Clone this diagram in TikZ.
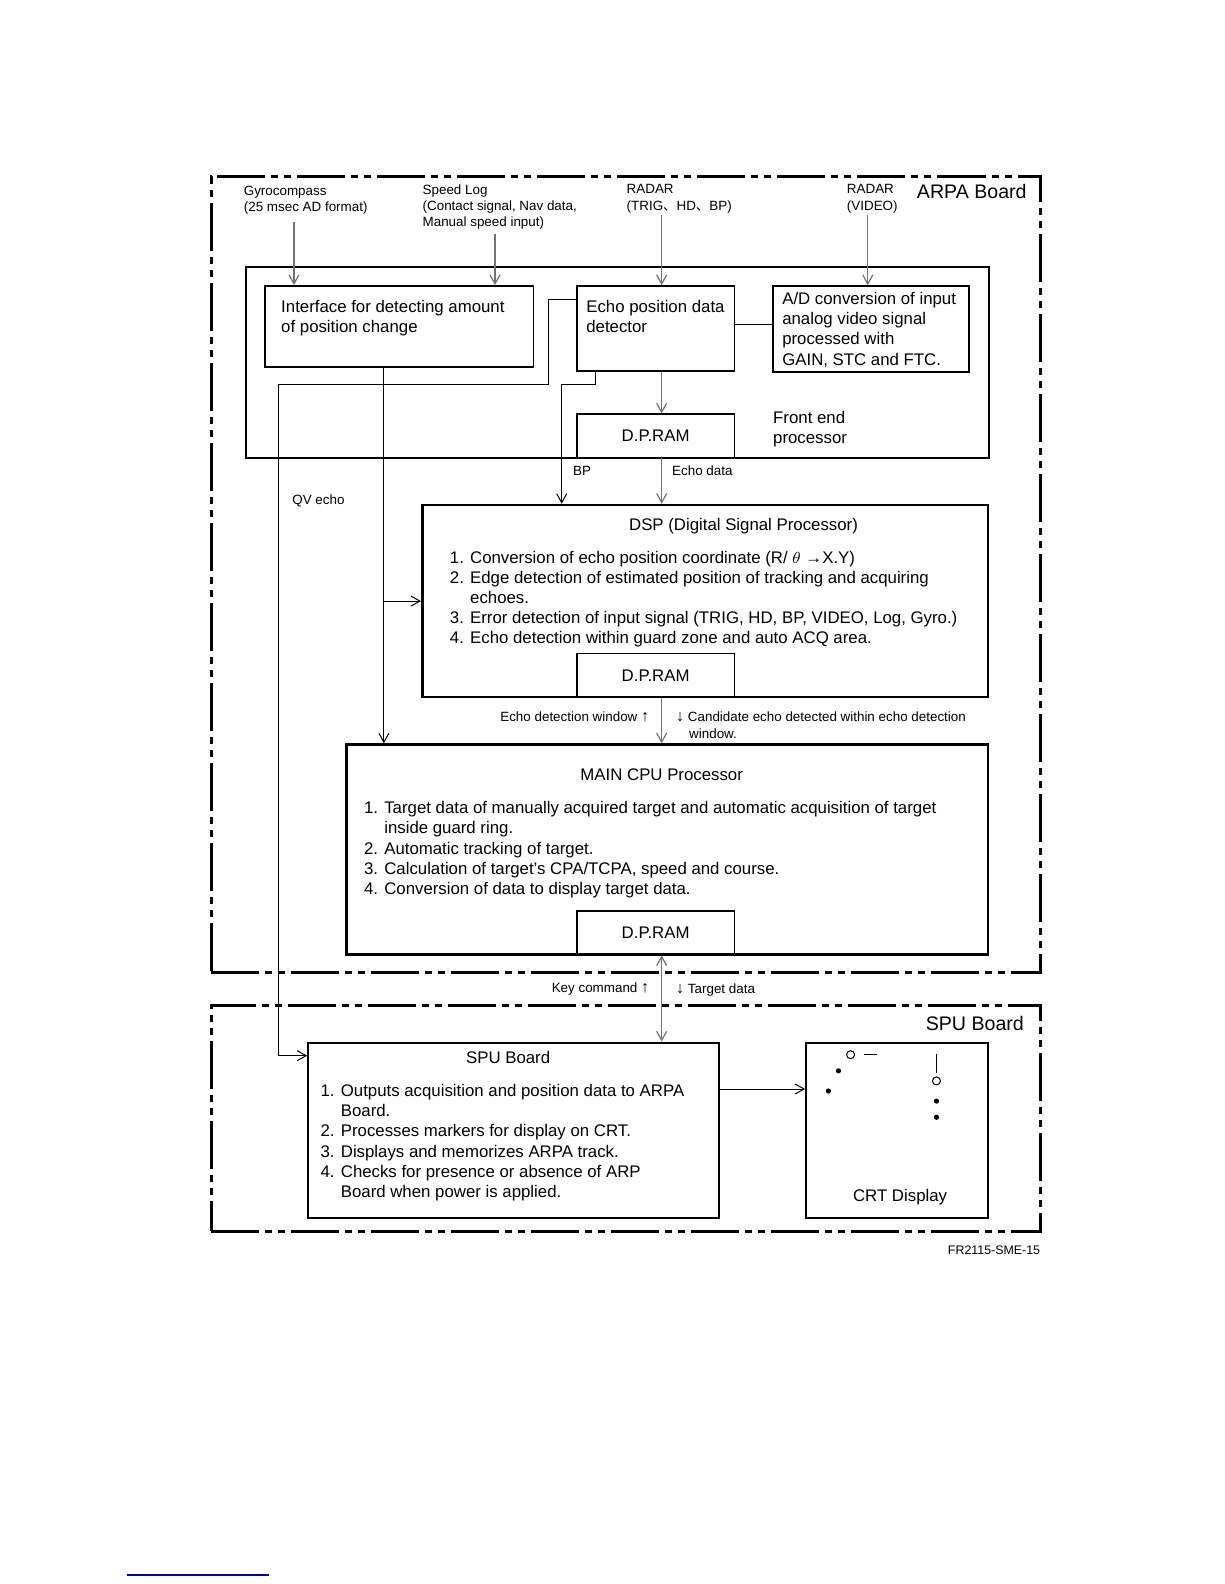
\documentclass[tikz,border=0pt]{standalone}
\usepackage{fontspec}
\setmainfont{Liberation Sans}
\newfontfamily\cjkfont{Noto Sans CJK JP}
\usepackage{tikz}
\usetikzlibrary{arrows.meta,positioning,calc}

\newcommand{\uparr}{\smash{\fontsize{8}{8}\selectfont\textuparrow}}
\newcommand{\downarr}{\smash{\fontsize{8}{8}\selectfont\textdownarrow}}

\begin{document}
\begin{tikzpicture}[
    x=0.505pt, y=-0.505pt,
    >={Straight Barb[length=4.5pt,width=5pt]},
    box/.style={
        draw=black,
        line width=0.8pt,
        inner sep=0pt
    },
    heavybox/.style={
        box,
        line width=1.3pt
    },
    ram/.style={
        box,
        minimum width=78.8pt,
        minimum height=21.7pt,
        font=\fontsize{8.4}{10}\selectfont
    },
    board/.style={
        draw=black,
        line width=1.5pt,
        dash pattern=on 24pt off 3pt on 3.5pt off 3pt on 3.5pt off 3pt,
        inner sep=0pt
    },
    txt/.style={
        anchor=north west,
        inner sep=0pt,
        align=left,
        font=\fontsize{8.4}{10.1}\selectfont
    },
    small/.style={
        anchor=north west,
        inner sep=0pt,
        align=left,
        font=\fontsize{6.7}{8.1}\selectfont
    },
    title/.style={
        inner sep=0pt,
        font=\fontsize{8.4}{10}\selectfont
    },
    boardtitle/.style={
        inner sep=0pt,
        font=\fontsize{9.8}{11}\selectfont
    },
    wire/.style={
        line width=0.5pt,
        draw=black
    },
    arrow/.style={
        ->,
        line width=0.5pt,
        draw=black
    },
    grayarrow/.style={
        ->,
        line width=0.6pt,
        draw=black!55
    },
    dot/.style={
        fill=black
    }
]

% ---------------------------------------------------------
% Page and boards
% ---------------------------------------------------------
\path[use as bounding box] (0,0) rectangle (1212,1568);

\node[board, minimum width=414.6pt, minimum height=397.9pt]
    (arpa) at (619.5,569) {};
\node[boardtitle] (arpatitle) at (962,190) {ARPA Board};

\node[board, minimum width=414.6pt, minimum height=113.1pt]
    (spuboard) at (619.5,1107) {};
\node[boardtitle] (sputitle) at (965,1013) {SPU Board};

\node[small, anchor=east, font=\fontsize{6.2}{7}\selectfont]
    (figno) at (1030,1238) {FR2115-SME-15};

% ---------------------------------------------------------
% Front end processor
% ---------------------------------------------------------
\node[box, line width=1pt, minimum width=371.2pt, minimum height=95.4pt]
    (front) at (611.5,358.5) {};
\node[txt] (fronttxt) at (765,407) {Front end\\processor};

\node[box, minimum width=134.3pt, minimum height=40.4pt]
    (iface) at (395,323) {};
\node[txt] (ifacetxt) at (278,297)
    {Interface for detecting amount\\of position change};

\node[box, minimum width=78.8pt, minimum height=42.4pt]
    (echo) at (649,325) {};
\node[txt] (echotxt) at (580,297) {Echo position data\\detector};

\node[box, minimum width=98pt, minimum height=42.9pt]
    (adconv) at (862,325.5) {};
\node[txt] (adtxt) at (774,289)
    {A/D conversion of input\\analog video signal\\processed with\\GAIN, STC and FTC.};

\node[ram] (ram1) at (649,431.5) {D.P.RAM};

% inputs
\node[small] (gyro) at (241,183.5)
    {Gyrocompass\\(25 msec AD format)};
\node[small] (speed) at (418,182.5)
    {Speed Log\\(Contact signal, Nav data,\\Manual speed input)};
\node[small] (radar) at (620,182.5)
    {RADAR\\(TRIG{\cjkfont 、}HD{\cjkfont 、}BP)};
\node[small] (video) at (838,182.5)
    {RADAR\\(VIDEO)};

\coordinate (gyroin) at (291,220);
\coordinate (speedin) at (490,232);
\coordinate (radarin) at (655,213);
\coordinate (videoin) at (859,213);

\draw[grayarrow] (gyroin) -- (gyroin |- iface.north);
\draw[grayarrow] (speedin) -- (speedin |- iface.north);
\draw[grayarrow] (radarin) -- (radarin |- echo.north);
\draw[grayarrow] (videoin) -- (videoin |- adconv.north);

\draw[wire] (echo.east |- 0,321) -- (adconv.west |- 0,321);
\draw[grayarrow] (radarin |- echo.south) -- (radarin |- ram1.north);

% ---------------------------------------------------------
% DSP
% ---------------------------------------------------------
\node[heavybox, minimum width=282.8pt, minimum height=96pt]
    (dsp) at (698,595) {};
\node[title] (dsptitle) at (736,521) {DSP (Digital Signal Processor)};
\node[txt] (dsplist) at (445,545)
    {1. Conversion of echo position coordinate (R/ $\theta$ \textrightarrow X.Y)\\
     2. Edge detection of estimated position of tracking and acquiring\\
     \phantom{2. }echoes.\\
     3. Error detection of input signal (TRIG, HD, BP, VIDEO, Log, Gyro.)\\
     4. Echo detection within guard zone and auto ACQ area.};
\node[ram] (ram2) at (649,668.5) {D.P.RAM};

% BP and echo data into the DSP
\coordinate (bpx) at (589,381);
\coordinate (bpdown) at (556,381);
\draw[arrow] (bpx |- echo.south) -- (bpx) -- (bpdown) -- (bpdown |- dsp.north);
\draw[grayarrow] (radarin |- ram1.south) -- (radarin |- dsp.north);
\node[small, anchor=west] (bplbl) at (567,466) {BP};
\node[small, anchor=west] (echodatalbl) at (665,466) {Echo data};

% ---------------------------------------------------------
% MAIN CPU
% ---------------------------------------------------------
\node[heavybox, minimum width=320.7pt, minimum height=105pt]
    (cpu) at (660.5,841) {};
\node[title] (cputitle) at (655,767) {MAIN CPU Processor};
\node[txt] (cpulist) at (360,793)
    {1. Target data of manually acquired target and automatic acquisition of target\\
     \phantom{1. }inside guard ring.\\
     2. Automatic tracking of target.\\
     3. Calculation of target's CPA/TCPA, speed and course.\\
     4. Conversion of data to display target data.};
\node[ram] (ram3) at (649,923.5) {D.P.RAM};

\draw[grayarrow] (radarin |- ram2.south) -- (radarin |- cpu.north);
\node[small, anchor=east] (windowlbl) at (643,709) {Echo detection window \uparr};
\node[small] (candlbl) at (669,704.5)
    {\downarr{} Candidate echo detected within echo detection\\
     \hspace*{6.5pt}window.};

% position change into DSP and CPU
\coordinate (posx) at (380,595);
\draw[arrow] (posx |- iface.south) -- (posx |- cpu.north);
\draw[arrow] (posx) -- (dsp.west |- posx);

% ---------------------------------------------------------
% SPU board
% ---------------------------------------------------------
\node[box, line width=1pt, minimum width=205.5pt, minimum height=87.9pt]
    (spu) at (508.5,1119) {};
\node[title] (sputxt) at (503,1047) {SPU Board};
\node[txt] (spulist) at (317,1073)
    {1. Outputs acquisition and position data to ARPA\\
     \phantom{1. }Board.\\
     2. Processes markers for display on CRT.\\
     3. Displays and memorizes ARPA track.\\
     4. Checks for presence or absence of ARP\\
     \phantom{4. }Board when power is applied.};

\node[box, line width=1pt, minimum width=90.9pt, minimum height=87.9pt]
    (crt) at (888,1119) {};
\node[title] (crttxt) at (891,1185) {CRT Display};

\draw[<->, line width=0.6pt, draw=black!55] (radarin |- ram3.south) -- (radarin |- spu.north);
\node[small, anchor=east] (keylbl) at (643,979) {Key command \uparr};
\node[small, anchor=west] (targetlbl) at (669,980) {\downarr{} Target data};

\draw[arrow] (spu.east |- 0,1078) -- (crt.west |- 0,1078);

% QV echo from the echo detector to the SPU
\coordinate (qv1) at (543,296);
\coordinate (qv2) at (543,381);
\coordinate (qv3) at (276,381);
\coordinate (qv4) at (276,1045);
\draw[arrow] (echo.west |- qv1) -- (qv1) -- (qv2) -- (qv3) -- (qv4) -- (spu.west |- qv4);
\node[small, anchor=west] (qvlbl) at (289,496) {QV echo};

% CRT markers
\draw[line width=0.5pt] (842,1044) circle (2pt);
\draw[line width=0.5pt] (855,1044) -- (868,1044);
\fill[dot] (830,1060) circle (1.3pt);
\fill[dot] (820,1080) circle (1.3pt);
\draw[line width=0.5pt] (927,1043) -- (927,1062);
\draw[line width=0.5pt] (927,1070) circle (2pt);
\fill[dot] (927,1090) circle (1.3pt);
\fill[dot] (927,1106) circle (1.3pt);

% footnote rule
\draw[blue!70!black, line width=0.6pt] (126,1559) -- (266,1559);

\end{tikzpicture}
\end{document}
